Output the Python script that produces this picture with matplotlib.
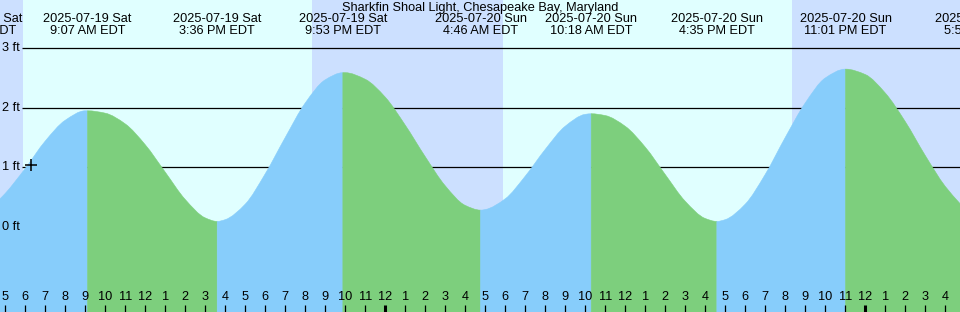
import numpy as np
import matplotlib
matplotlib.use("Agg")
import matplotlib.pyplot as plt
from matplotlib.path import Path
from matplotlib.patches import PathPatch
from matplotlib.transforms import blended_transform_factory

plt.rcParams['font.family'] = ['Liberation Sans', 'DejaVu Sans']

# hours since 2025-07-19 00:00 EDT
T_START, T_END = 4.74, 52.74
Y_MIN, Y_MAX = -1.432, 3.812

title = "Sharkfin Shoal Light, Chesapeake Bay, Maryland"

# tide height (ft), roughly every hour
sample_t = [4.74, 5, 6, 7, 8, 9, 10, 11, 12, 13, 14, 15, 16, 17, 18, 19, 20, 21,
            22, 23, 24, 25, 26, 27, 28, 29, 30, 31, 32, 33, 34, 35, 36, 37, 38,
            39, 40, 41, 42, 43, 44, 45, 46, 47, 48, 49, 50, 51, 52, 52.74]
sample_h = [0.47, 0.56, 0.98, 1.44, 1.79, 1.95, 1.91, 1.73, 1.38, 0.92, 0.46, 0.15,
            0.12, 0.38, 0.89, 1.50, 2.08, 2.47,
            2.59, 2.48, 2.18, 1.71, 1.18, 0.69, 0.36, 0.29, 0.47, 0.85, 1.30, 1.69,
            1.89, 1.87, 1.69, 1.34, 0.88, 0.43, 0.14, 0.12, 0.38, 0.88, 1.50, 2.08,
            2.50, 2.65, 2.56, 2.25, 1.77, 1.20, 0.68, 0.39]

# high / low tide events
event_t = [3.67, 9.117, 15.6, 21.883, 28.767, 34.3, 40.583, 47.017, 53.85]
event_h = [0.25, 1.95, 0.09, 2.59, 0.28, 1.90, 0.09, 2.65, 0.21]
event_kind = ["Low", "High", "Low", "High", "Low", "High", "Low", "High", "Low"]
event_date = ["2025-07-19 Sat", "2025-07-19 Sat", "2025-07-19 Sat", "2025-07-19 Sat",
              "2025-07-20 Sun", "2025-07-20 Sun", "2025-07-20 Sun", "2025-07-20 Sun",
              "2025-07-21 Mon"]
event_time = ["3:40 AM EDT", "9:07 AM EDT", "3:36 PM EDT", "9:53 PM EDT", "4:46 AM EDT",
              "10:18 AM EDT", "4:35 PM EDT", "11:01 PM EDT", "5:51 AM EDT"]

sunrise = [5.88, 29.88]
sunset = [20.35, 44.35]

height_labels = [0, 1, 2, 3]
marker_t, marker_h = 6.28, 1.04

DAY = "#e0ffff"
NIGHT = "#cce0ff"
RISING = "#87cdfb"
FALLING = "#7dcf7d"
FS = 9.2


def slopes(x, y):
    # monotone cubic tangents, flat at highs and lows
    d = np.diff(y) / np.diff(x)
    m = np.zeros_like(y)
    for i in range(1, len(y) - 1):
        if d[i - 1] * d[i] > 0:
            w1 = 2 * (x[i + 1] - x[i]) + (x[i] - x[i - 1])
            w2 = (x[i + 1] - x[i]) + 2 * (x[i] - x[i - 1])
            m[i] = (w1 + w2) / (w1 / d[i - 1] + w2 / d[i])
    m[0], m[-1] = d[0], d[-1]
    return m


fig = plt.figure(figsize=(9.6, 3.12), dpi=100)
ax = fig.add_axes([0, 0, 1, 1])
ax.set_xlim(T_START, T_END)
ax.set_ylim(Y_MIN, Y_MAX)
ax.axis("off")
px = (T_END - T_START) / 960.0

# day / night background
ax.axvspan(T_START, T_END, color=DAY, lw=0, zorder=0)
night = [(T_START, sunrise[0]), (sunset[0], sunrise[1]), (sunset[1], T_END)]
for a, b in night:
    ax.axvspan(a, b, color=NIGHT, lw=0, zorder=0)

# grid lines and labels
ax.hlines(height_labels[1:], T_START + 22 * px, T_END, color="black", lw=0.9, zorder=1)
ylab = blended_transform_factory(ax.transAxes, ax.transData)
for v in height_labels:
    ax.text(2 / 960, v, f"{v} ft", transform=ylab, ha="left", va="center", fontsize=FS)

# tide curve, coloured by rising / falling
inside = [i for i, t in enumerate(event_t) if T_START < t < T_END]
pts_t = np.array(sample_t + [event_t[i] for i in inside])
pts_h = np.array(sample_h + [event_h[i] for i in inside])
order = np.argsort(pts_t)
pts_t, pts_h = pts_t[order], pts_h[order]
pts_m = slopes(pts_t, pts_h)

bounds = [T_START] + [event_t[i] for i in inside] + [T_END]
for a, b in zip(bounds[:-1], bounds[1:]):
    nxt = next(k for t, k in zip(event_t, event_kind) if t > a + 1e-6)
    col = RISING if nxt == "High" else FALLING
    idx = np.where((pts_t >= a - 1e-9) & (pts_t <= b + 1e-9))[0]
    verts = [(pts_t[idx[0]], Y_MIN), (pts_t[idx[0]], pts_h[idx[0]])]
    codes = [Path.MOVETO, Path.LINETO]
    for i, j in zip(idx[:-1], idx[1:]):
        dt = (pts_t[j] - pts_t[i]) / 3
        verts += [(pts_t[i] + dt, pts_h[i] + pts_m[i] * dt),
                  (pts_t[j] - dt, pts_h[j] - pts_m[j] * dt),
                  (pts_t[j], pts_h[j])]
        codes += [Path.CURVE4] * 3
    verts += [(pts_t[idx[-1]], Y_MIN), (pts_t[idx[0]], Y_MIN)]
    codes += [Path.LINETO, Path.CLOSEPOLY]
    ax.add_patch(PathPatch(Path(verts, codes), facecolor=col, edgecolor=col,
                           lw=0.4, zorder=2))

ax.plot([marker_t], [marker_h], marker="+", color="black", ms=9, mew=1.1, zorder=3)

# top labels
top = blended_transform_factory(ax.transData, ax.transAxes)
ax.text(0.5, 1 - 8 / 312, title, transform=ax.transAxes, ha="center", va="center",
        fontsize=FS)
for t, d, s in zip(event_t, event_date, event_time):
    ax.text(t, 1 - 19 / 312, d, transform=top, ha="center", va="center", fontsize=FS)
    ax.text(t, 1 - 30.5 / 312, s, transform=top, ha="center", va="center", fontsize=FS)

# hour ticks along the bottom
for hr in range(int(np.ceil(T_START)), int(T_END) + 1):
    lw = 2.2 if hr % 24 == 0 else 0.9
    ax.plot([hr, hr], [0, 7 / 312], transform=top, color="black", lw=lw,
            solid_capstyle="butt", zorder=4)
    ax.text(hr, 1 - 297 / 312, str((hr - 1) % 12 + 1), transform=top,
            ha="center", va="center", fontsize=FS, zorder=4)

fig.savefig("out.png", dpi=100)
